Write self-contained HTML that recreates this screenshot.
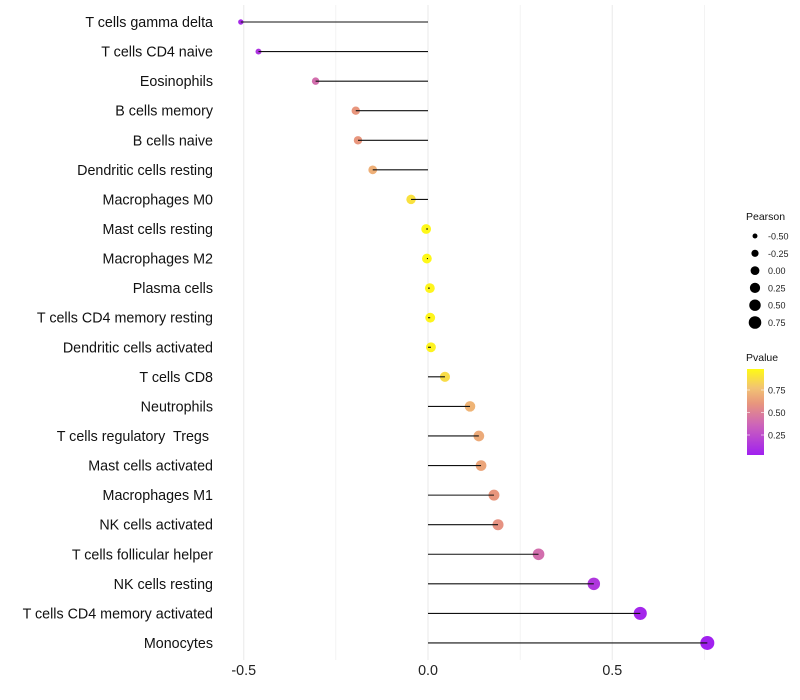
<!DOCTYPE html>
<html><head><meta charset="utf-8"><style>
html,body{margin:0;padding:0;background:#fff;}
svg{display:block;font-family:"Liberation Sans",sans-serif;}
text{white-space:pre;}
</style></head><body>
<svg id="chart" width="800" height="700">
<g id="grid"></g>
<g id="marks"></g>
<g id="ylabels"></g>
<g id="xlabels"></g>
<g id="legend"></g>
</svg>
<script>
const categories=["T cells gamma delta","T cells CD4 naive","Eosinophils","B cells memory","B cells naive","Dendritic cells resting","Macrophages M0","Mast cells resting","Macrophages M2","Plasma cells","T cells CD4 memory resting","Dendritic cells activated","T cells CD8","Neutrophils","T cells regulatory  Tregs ","Mast cells activated","Macrophages M1","NK cells activated","T cells follicular helper","NK cells resting","T cells CD4 memory activated","Monocytes"];
const pearson=[-0.508,-0.46,-0.305,-0.196,-0.19,-0.15,-0.046,-0.005,-0.003,0.005,0.006,0.008,0.046,0.114,0.138,0.144,0.179,0.19,0.30,0.45,0.576,0.758];
const pvalue=[0.05,0.1,0.4,0.6,0.6,0.7,0.9,0.99,0.99,0.98,0.98,0.97,0.88,0.72,0.68,0.66,0.6,0.58,0.4,0.12,0.03,0.005];
const xTicks=[-0.5,0,0.5];
const xMinor=[-0.25,0.25,0.75];
const sizeLegend=[-0.5,-0.25,0,0.25,0.5,0.75];
const colorTicks=[0.75,0.5,0.25];

const NS="http://www.w3.org/2000/svg";
const X=v=>428+v*368.5;
const Y=i=>22+i*29.57;
const R=v=>Math.sqrt(Math.max(3,24+33*v));
const stops=[[0,[160,32,240]],[0.35,[205,100,185]],[0.6,[232,150,125]],[0.78,[242,195,115]],[1,[255,250,20]]];
function col(p){for(let k=1;k<stops.length;k++){if(p<=stops[k][0]){const a=stops[k-1],b=stops[k];const t=(p-a[0])/(b[0]-a[0]);const c=a[1].map((x,j)=>Math.round(x+(b[1][j]-x)*t));return `rgb(${c})`;}}return 'rgb(255,250,20)';}
function mk(tag,attrs,parent){const e=document.createElementNS(NS,tag);for(const k in attrs)e.setAttribute(k,attrs[k]);parent.appendChild(e);return e;}
const grid=document.getElementById('grid'),marks=document.getElementById('marks'),yl=document.getElementById('ylabels'),xl=document.getElementById('xlabels'),lg=document.getElementById('legend');
xTicks.concat(xMinor).forEach(t=>{const l=mk('line',{x1:X(t),x2:X(t),y1:5,y2:660,stroke:'#ebebeb','stroke-width':xTicks.includes(t)?1.1:0.6},grid);

});
xTicks.forEach(t=>{const tx=mk('text',{x:X(t),y:675,'text-anchor':'middle','font-size':14.3,fill:'#222'},xl);tx.textContent=t===0?'0.0':String(t);

});
categories.forEach((c,i)=>{const v=pearson[i],y=Y(i);
const pt=mk('circle',{cx:X(v),cy:y,r:R(v),fill:col(pvalue[i])},marks);


const ln=mk('line',{x1:X(0),x2:X(v),y1:y,y2:y,stroke:'#111','stroke-width':1.1},marks);


const t=mk('text',{x:213,y:y+5,'text-anchor':'end','font-size':14.3,fill:'#111'},yl);t.textContent=c;

});
let tt=mk('text',{x:746,y:220,'font-size':10.5,fill:'#111'},lg);tt.textContent='Pearson';


sizeLegend.forEach((v,k)=>{const y=236+k*17.3;
const c=mk('circle',{cx:755,cy:y,r:R(v)*0.9,fill:'#000'},lg);


const t=mk('text',{x:768,y:y+3.5,'font-size':9,fill:'#222'},lg);t.textContent=v.toFixed(2);

});
tt=mk('text',{x:746,y:361,'font-size':10.5,fill:'#111'},lg);tt.textContent='Pvalue';


const defs=mk('defs',{},lg);const gr=mk('linearGradient',{id:'pg',x1:0,y1:1,x2:0,y2:0},defs);
stops.forEach(s=>mk('stop',{offset:s[0],'stop-color':col(s[0])},gr));
const cb=mk('rect',{x:747,y:369,width:17,height:86,fill:'url(#pg)'},lg);


const cy=p=>457.5-p*90;
colorTicks.forEach(p=>{mk('line',{x1:747,x2:750,y1:cy(p),y2:cy(p),stroke:'#fff','stroke-opacity':0.6},lg);mk('line',{x1:761,x2:764,y1:cy(p),y2:cy(p),stroke:'#fff','stroke-opacity':0.6},lg);
const t=mk('text',{x:768,y:cy(p)+3.5,'font-size':9,fill:'#222'},lg);t.textContent=p.toFixed(2);

});
</script>
</body></html>
